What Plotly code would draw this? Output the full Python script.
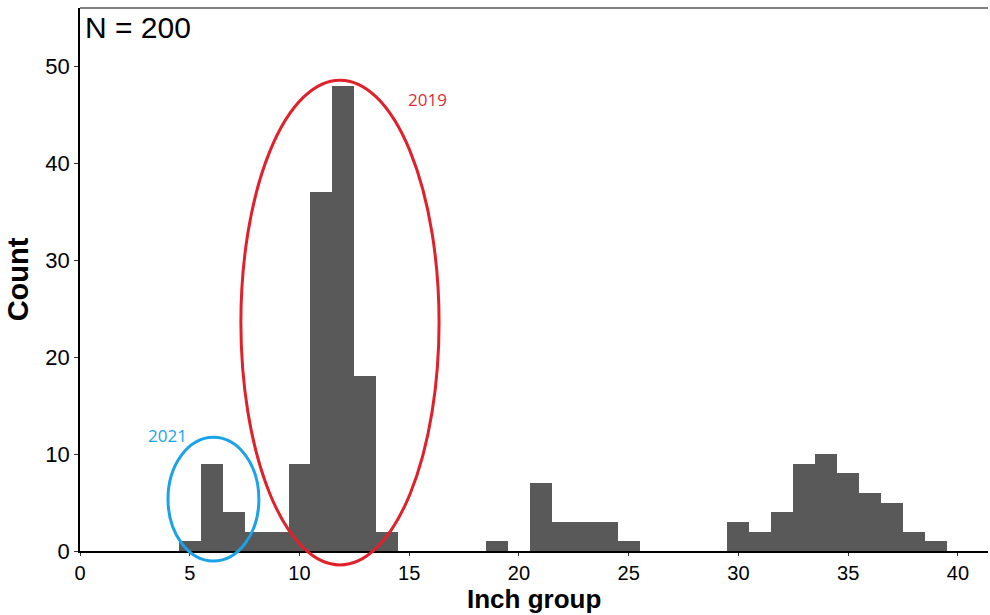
import plotly.graph_objects as go

# Histogram counts per 1-inch group
inch_groups = list(range(5, 40))
counts = [1, 9, 4, 2, 2, 9, 37, 48, 18, 2,
          0, 0, 0, 0, 1, 0, 7, 3, 3, 3,
          1, 0, 0, 0, 0, 3, 2, 4, 9, 10,
          8, 6, 5, 2, 1]

x_ticks = [0, 5, 10, 15, 20, 25, 30, 35, 40]
y_ticks = [0, 10, 20, 30, 40, 50]
x_max = 41.37
y_max = 56

# Cohort outlines (data units): x0, x1, y0, y1
cohort_2019 = (7.33, 16.36, -1.44, 48.56)
cohort_2021 = (4.01, 8.15, -1.03, 11.73)

fig = go.Figure(go.Bar(
    x=inch_groups, y=counts, width=1.0,
    marker=dict(color="#595959", line=dict(width=0)),
    hoverinfo="x+y",
))


def ellipse(box, color):
    x0, x1, y0, y1 = box
    return dict(type="circle", xref="paper", yref="paper",
                x0=x0 / x_max, x1=x1 / x_max, y0=y0 / y_max, y1=y1 / y_max,
                line=dict(color=color, width=3), layer="above")


fig.update_layout(
    width=990, height=615,
    margin=dict(l=80, r=2, t=8, b=64),
    plot_bgcolor="white", paper_bgcolor="white",
    showlegend=False,
    bargap=0,
    font=dict(family="Liberation Sans, Arial, sans-serif", color="black"),
    xaxis=dict(range=[0, x_max], tickvals=x_ticks, ticks="outside", ticklen=3,
               tickcolor="#333333", showgrid=False, zeroline=False,
               showline=True, linecolor="black", linewidth=1.5,
               tickfont=dict(size=20, color="black")),
    yaxis=dict(range=[0, y_max], tickvals=y_ticks, ticks="outside", ticklen=4,
               tickcolor="#333333", showgrid=False, zeroline=False,
               showline=True, linecolor="black", linewidth=1.5,
               tickfont=dict(size=22, color="black"),
               title=dict(text="<b>Count</b>", font=dict(size=29), standoff=8)),
    shapes=[
        dict(type="line", xref="paper", yref="paper", x0=0, x1=1, y0=1, y1=1,
             line=dict(color="#555555", width=1.5)),
        ellipse(cohort_2019, "#e0202a"),
        ellipse(cohort_2021, "#1aa3e8"),
    ],
    annotations=[
        dict(text="<b>Inch group</b>", xref="paper", yref="paper", x=0.5, y=-0.0884,
             xanchor="center", yanchor="middle", showarrow=False,
             font=dict(size=26, color="black")),
        dict(text="N = 200", xref="paper", yref="paper", x=0.003, y=0.998,
             xanchor="left", yanchor="top", showarrow=False,
             font=dict(size=30, color="black")),
        dict(text="2019", x=15.82, y=46.6, xref="x", yref="y", showarrow=False,
             font=dict(family="Open Sans, sans-serif", size=17, color="#d8303a")),
        dict(text="2021", x=4.0, y=11.9, xref="x", yref="y", showarrow=False,
             font=dict(family="Open Sans, sans-serif", size=17, color="#1aa3e8")),
    ],
)

fig.write_html("out.html")
